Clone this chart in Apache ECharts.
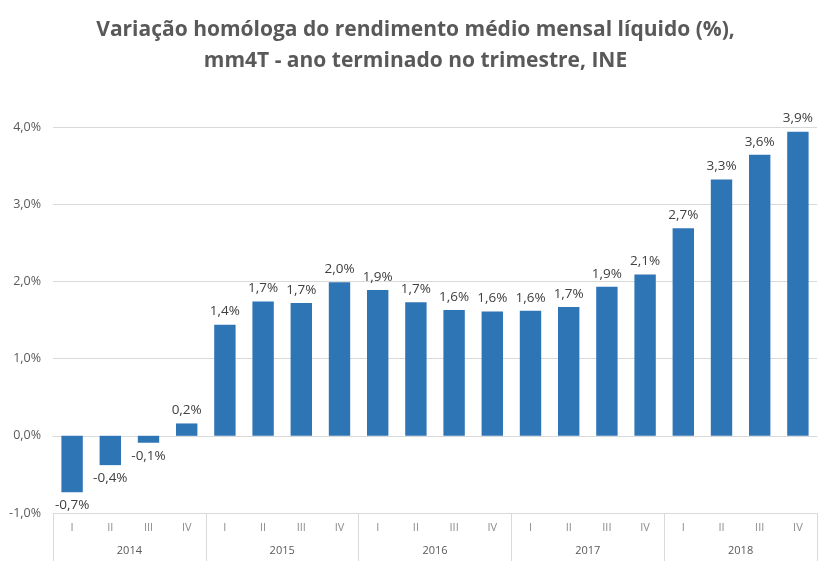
<!DOCTYPE html>
<html>
<head>
<meta charset="utf-8">
<script src="https://cdn.jsdelivr.net/npm/echarts@6/dist/echarts.min.js"></script>
<style>
  html, body { margin: 0; padding: 0; background: #fff; }
  #chart1 { width: 831px; height: 567px; }
</style>
</head>
<body>
<div id="chart1"></div>
<script>
const trimestres = ["I", "II", "III", "IV", "I", "II", "III", "IV", "I", "II", "III", "IV",
  "I", "II", "III", "IV", "I", "II", "III", "IV"];
const anos = ["2014", "2015", "2016", "2017", "2018"];
const variacao = [-0.73, -0.38, -0.09, 0.16, 1.44, 1.74, 1.72, 1.99, 1.89, 1.73,
  1.63, 1.61, 1.62, 1.67, 1.93, 2.09, 2.69, 3.32, 3.64, 3.94];

const fmtPct = (v) => v.toFixed(1).replace(".", ",") + "%";

const getOptionChart1 = () => {
  return {
    animation: false,
    title: {
      text: "Variação homóloga do rendimento médio mensal líquido (%),\nmm4T - ano terminado no trimestre, INE",
      left: "center",
      top: 10,
      textStyle: {
        fontFamily: "Open Sans",
        fontSize: 21,
        fontWeight: "bold",
        color: "#595959",
        lineHeight: 31,
      },
    },
    grid: {
      left: 53,
      right: 14,
      top: 127,
      bottom: 54,
    },
    xAxis: [
      {
        type: "category",
        data: trimestres,
        position: "bottom",
        axisLine: { show: true, lineStyle: { color: "#d9d9d9" } },
        axisTick: { show: false },
        axisLabel: {
          interval: 0,
          margin: 9,
          color: "#8c8c8c",
          fontFamily: "Open Sans",
          fontSize: 11,
        },
      },
      {
        type: "category",
        data: anos,
        position: "bottom",
        axisLine: { show: false },
        axisTick: {
          show: true,
          interval: 0,
          length: 48,
          lineStyle: { color: "#d9d9d9" },
        },
        axisLabel: {
          interval: 0,
          margin: 32,
          color: "#595959",
          fontFamily: "Open Sans",
          fontSize: 11,
        },
      },
    ],
    yAxis: [
      {
        type: "value",
        min: -1,
        max: 4,
        interval: 1,
        axisLine: { show: false },
        axisTick: { show: false },
        splitLine: { lineStyle: { color: "#d9d9d9" } },
        axisLabel: {
          margin: 12,
          color: "#595959",
          fontFamily: "Open Sans",
          fontSize: 12.5,
          formatter: (v) => fmtPct(v),
        },
      },
    ],
    series: [
      {
        name: "Variação",
        type: "bar",
        xAxisIndex: 0,
        barWidth: "56%",
        itemStyle: { color: "#2e75b6" },
        data: variacao.map((v) => ({
          value: v,
          label: { position: v < 0 ? "bottom" : "top" },
        })),
        label: {
          show: true,
          distance: 6,
          color: "#404040",
          fontFamily: "Open Sans",
          fontSize: 13.5,
          formatter: (p) => fmtPct(p.value),
        },
      },
    ],
  };
};

const initCharts = () => {
  const chart1 = echarts.init(document.getElementById("chart1"));
  chart1.setOption(getOptionChart1());
};

window.addEventListener("load", () => {
  initCharts();
});
</script>
</body>
</html>
